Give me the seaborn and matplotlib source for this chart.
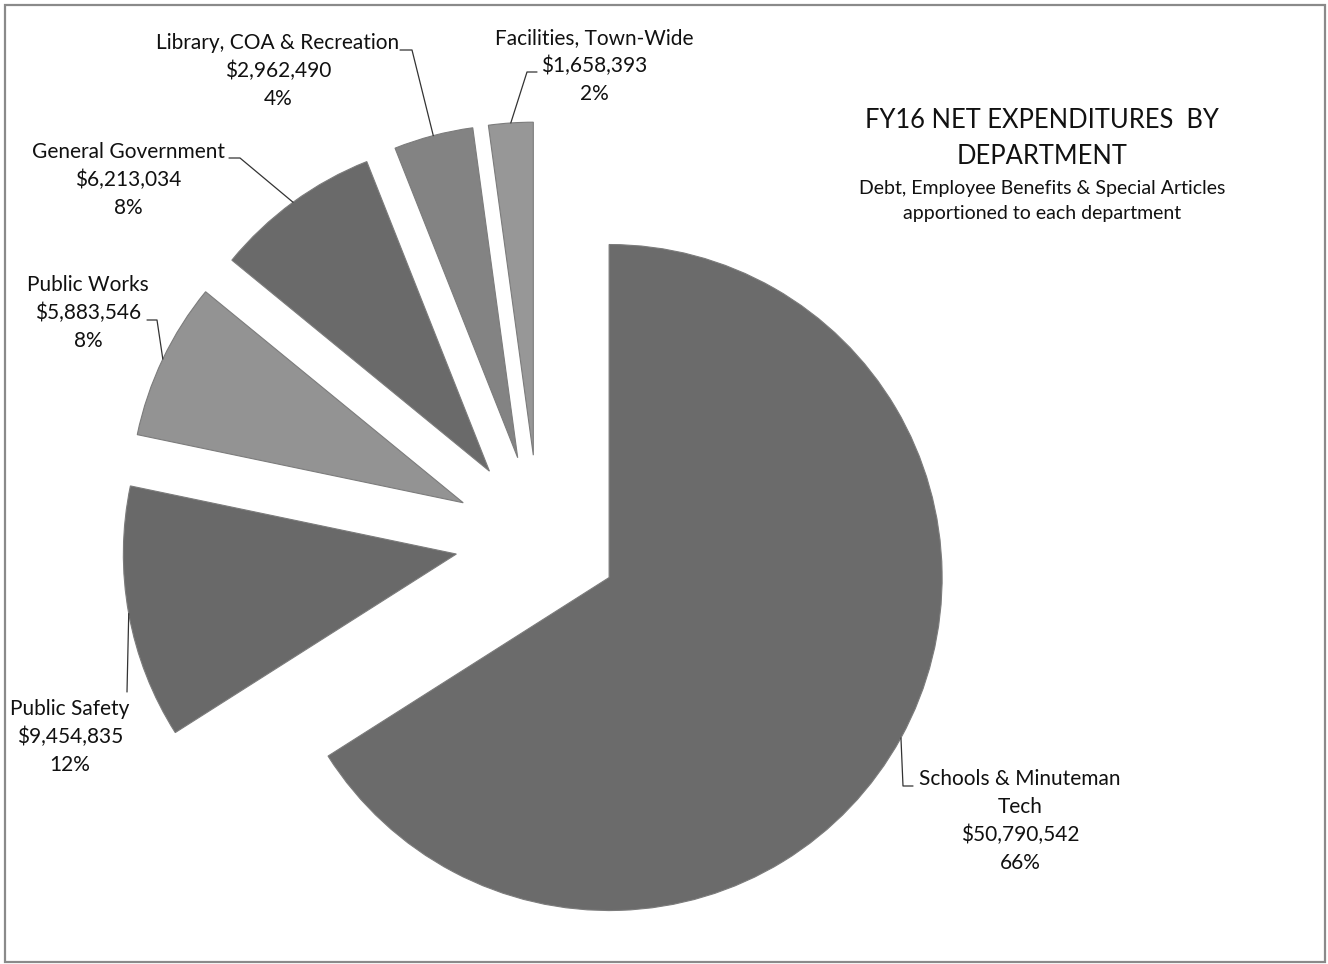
import seaborn as sns
import matplotlib.pyplot as plt
import numpy as np

# Dados (sentido horário a partir do topo)
departamentos = ["Schools & Minuteman\nTech", "Public Safety", "Public Works",
                 "General Government", "Library, COA & Recreation", "Facilities, Town-Wide"]
valores = [50790542, 9454835, 5883546, 6213034, 2962490, 1658393]
cores = ["#6b6b6b", "#696969", "#939393", "#6a6a6a", "#838383", "#979797"]

# deslocamento das fatias (em pixels, pois o eixo está em pixels)
explosao = [80, 84, 84, 84, 84, 84]

# posição (centro do bloco de texto) e cotovelo da linha guia, em pixels
pos_rotulos = [(1020, 821), (70, 737), (88, 313), (128, 180), (278, 71), (594, 66)]
guias = [[(913, 786), (903, 786)],
         [(127, 692)],
         [(147, 320), (157, 320)],
         [(229, 158), (240, 158)],
         [(400, 50), (412, 50)],
         [(537, 72), (527, 72)]]

W, H = 1328, 964
sns.set_theme(style="white")
plt.rcParams['font.family'] = ['Lato', 'DejaVu Sans']

fig = plt.figure(figsize=(W / 100, H / 100), dpi=100)
ax = fig.add_axes([0, 0, 1, 1])

centro = (539, H - 539)
raio = 333
fatias, _ = ax.pie(valores, explode=explosao, colors=cores, startangle=90,
                   counterclock=False, center=centro, radius=raio, frame=True,
                   wedgeprops=dict(edgecolor="#7c7c7c", linewidth=0.8))
ax.set_xlim(0, W)
ax.set_ylim(0, H)
ax.axis('off')

total = sum(valores)
for fatia, nome, v, (tx, ty), guia in zip(fatias, departamentos, valores, pos_rotulos, guias):
    texto = f"{nome}\n${v:,}\n{round(v / total * 100)}%"
    ax.text(tx, H - ty, texto, ha='center', va='center', fontsize=15,
            linespacing=1.48, color='#111111')
    # ponto no arco, no meio da fatia
    ang = np.deg2rad((fatia.theta1 + fatia.theta2) / 2)
    cx, cy = fatia.center
    px, py = cx + fatia.r * np.cos(ang), cy + fatia.r * np.sin(ang)
    xs = [px] + [g[0] for g in guia[::-1]]
    ys = [py] + [H - g[1] for g in guia[::-1]]
    ax.plot(xs, ys, color='#333333', lw=0.9)

# Título
ax.text(1042, H - 120, "FY16 NET EXPENDITURES  BY", ha='center', va='center',
        fontsize=18.4, color='#111111')
ax.text(1042, H - 157, "DEPARTMENT", ha='center', va='center',
        fontsize=18.4, color='#111111')
ax.text(1042, H - 201, "Debt, Employee Benefits & Special Articles\napportioned to each department",
        ha='center', va='center', fontsize=14, linespacing=1.55, color='#111111')

# Moldura
ax.add_patch(plt.Rectangle((5, H - 962), 1320, 957, fill=False,
                           edgecolor='#8a8a8a', lw=1.6))

plt.savefig("out.png", dpi=100)
